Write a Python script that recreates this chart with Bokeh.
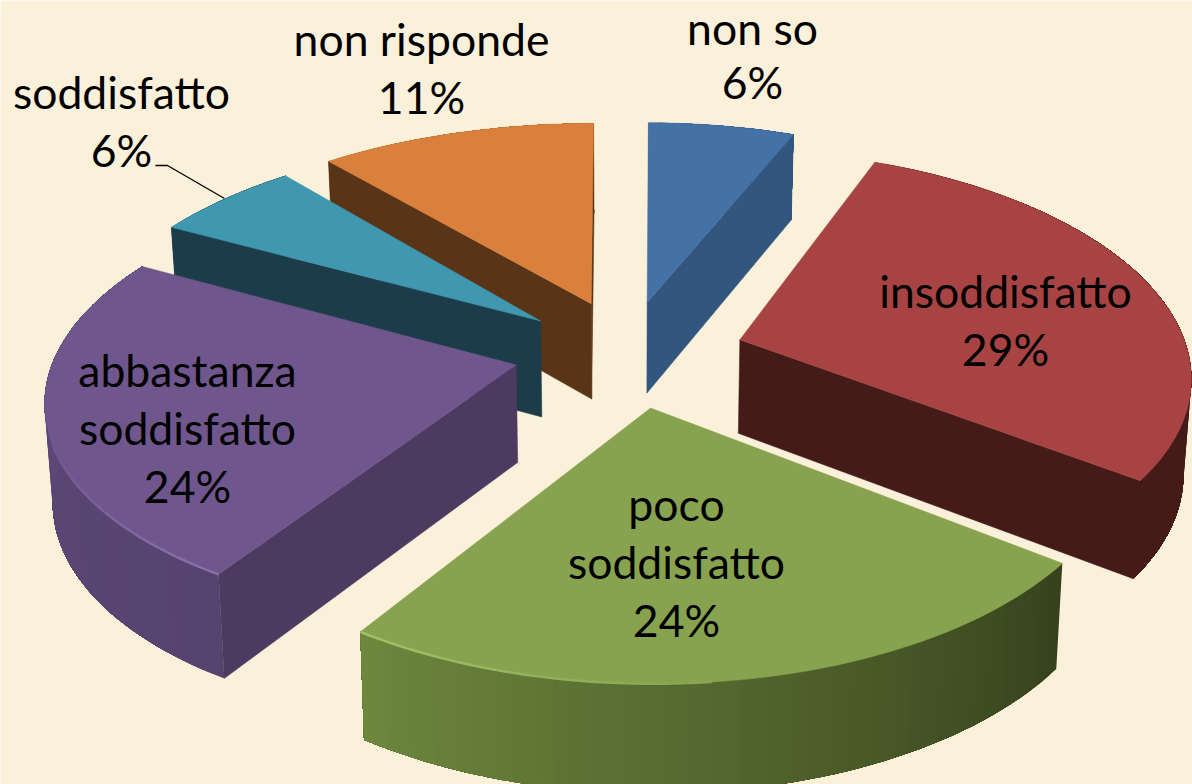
import math
from bokeh.plotting import figure
from bokeh.models import Range1d, ColumnDataSource
from bokeh.core.properties import value
from bokeh.embed import file_html
from bokeh.resources import INLINE

# --- data ---
categories = ["non so", "insoddisfatto", "poco soddisfatto", "abbastanza soddisfatto", "soddisfatto", "non risponde"]
percent = [6, 29, 24, 24, 6, 11]
pct_labels = ["6%", "29%", "24%", "24%", "6%", "11%"]

# --- styles and layout ---
TOP = ["#4471a6", "#a74443", "#87a34f", "#6f578d", "#3f97b0", "#d9813c"]
CUT = ["#33567f", "#451b19", "#36421d", "#4c3a60", "#1b3c48", "#5a3416"]
RIM_A = ["#33567f", "#451b19", "#36421d", "#57436f", "#1b3c48", "#b06a30"]   # clockwise start of rim
RIM_B = ["#33567f", "#451b19", "#6e883e", "#5f4a7c", "#1b3c48", "#b06a30"]   # clockwise end of rim
EDGE = ["#4471a6", "#a74443", "#a3c267", "#8a72aa", "#3f97b0", "#d9813c"]
BG = "#fbf1da"
CX, CY, RX, RY, K, H, EXPLODE = 628, 353, 465, 219, 0.143, 97, 0.245
ROT_DEG = [0.55, 0.5, 1.0, 0.0, -0.3, -0.3]
SCALE_X = [0.99, 0.965, 0.97, 0.99, 1.0, 1.02]
SCALE_Y = [1.0, 1.01, 1.0, 0.98, 1.0, 1.0]
SCALE_H = [0.95, 0.97, 1.02, 1.0, 1.0, 1.0]
NUDGE_X = [-2, 3, 0, -1, -2, 0]
NUDGE_Y = [0, 1, 0, -2, 1, -1]
LINES = [["non so", "6%"], ["insoddisfatto", "29%"], ["poco", "soddisfatto", "24%"],
         ["abbastanza", "soddisfatto", "24%"], ["soddisfatto", "6%"], ["non risponde", "11%"]]
LABEL_X = [752, 1005, 676, 187, 121, 421]
LABEL_BASE = [27, 290, 503, 369, 91, 38]
LINE_STEP = [54, 58, 58, 58, 58, 58]
LEADER_X = [155, 167, 224]
LEADER_Y = [165, 165, 198]
DRAW_ORDER = [0, 5, 4, 1, 3, 2]
LIGHT_ANGLE, LIGHT_SPREAD = math.radians(212), math.radians(38)


def project(X, Y, z=0.0, i=0):
    p = 1 / (1 + K * Y)
    return (CX + NUDGE_X[i] + RX * X * p * (1 - 0.014 * z),
            CY + NUDGE_Y[i] - RY * Y * p + H * SCALE_H[i] * (1 + (p - 1) * 0.5) * z)


def mix(a, b, t):
    ca = [int(a[i:i + 2], 16) for i in (1, 3, 5)]
    cb = [int(b[i:i + 2], 16) for i in (1, 3, 5)]
    return "#%02x%02x%02x" % tuple(round(u + (v - u) * t) for u, v in zip(ca, cb))


def area(pts):
    return sum(pts[k][0] * pts[(k + 1) % len(pts)][1] - pts[(k + 1) % len(pts)][0] * pts[k][1]
               for k in range(len(pts))) / 2


p = figure(width=1192, height=784, x_range=Range1d(0, 1192), y_range=Range1d(784, 0),
           toolbar_location=None, output_backend="svg", min_border=0,
           background_fill_color=BG, border_fill_color=BG, outline_line_color=None)
p.axis.visible = False
p.grid.visible = False

total = sum(percent)
starts = []
acc = 0.0
for v in percent:
    starts.append(acc)
    acc += v / total * 2 * math.pi

for i in DRAW_ORDER:
    base = starts[i]
    sweep = percent[i] / total * 2 * math.pi
    mid = base + sweep / 2
    a0 = base + math.radians(ROT_DEG[i])
    ox, oy = EXPLODE * math.sin(mid), EXPLODE * math.cos(mid)
    n = max(8, int(math.degrees(sweep) / 1.5))
    angs = [a0 + sweep * j / n for j in range(n + 1)]
    rim = [(ox + SCALE_X[i] * math.sin(a), oy + SCALE_Y[i] * math.cos(a)) for a in angs]
    # rim: each band reaches to the end of the arc, so that no seams show
    xs, ys, cols = [], [], []
    for j in range(n):
        tops = [project(x, y, 0, i) for x, y in rim[j:]]
        bots = [project(x, y, 1, i) for x, y in rim[j:]][::-1]
        pts = tops + bots
        xs.append([q[0] for q in pts])
        ys.append([q[1] for q in pts])
        cols.append(mix(RIM_A[i], RIM_B[i], j / n))
    p.patches("xs", "ys", source=ColumnDataSource(dict(xs=xs, ys=ys, c=cols)),
              fill_color="c", line_color=None)
    # cut faces, only those that face the viewer
    for sign, (ex, ey) in ((-1, rim[0]), (1, rim[-1])):
        pts = [project(ox, oy, 0, i), project(ex, ey, 0, i), project(ex, ey, 1, i), project(ox, oy, 1, i)]
        if area(pts) * sign > 0:
            p.patch([q[0] for q in pts], [q[1] for q in pts], fill_color=CUT[i], line_color=CUT[i], line_width=0.5)
    # top face
    outline = [project(ox, oy, 0, i)] + [project(x, y, 0, i) for x, y in rim]
    p.patch([q[0] for q in outline], [q[1] for q in outline], fill_color=TOP[i], line_color=TOP[i], line_width=0.5)
    # bevel highlight on the rim edge, towards the light only
    sx, sy, sc = [], [], []
    for j in range(n):
        am = (angs[j] + angs[j + 1]) / 2
        h = 1 - abs(am - LIGHT_ANGLE) / LIGHT_SPREAD
        if h > 0:
            q0, q1 = outline[j + 1], outline[j + 2]
            sx.append([q0[0], q1[0]])
            sy.append([q0[1], q1[1]])
            sc.append(mix(TOP[i], EDGE[i], h))
    if sx:
        p.multi_line("sx", "sy", source=ColumnDataSource(dict(sx=sx, sy=sy, sc=sc)), line_color="sc", line_width=2.5)

# leader line of "soddisfatto"
p.line(LEADER_X, LEADER_Y, line_color="#000000", line_width=1.3)

for i, lines in enumerate(LINES):
    for j, t in enumerate(lines):
        p.text([LABEL_X[i]], [LABEL_BASE[i] + j * LINE_STEP[i]], text=[t], text_align="center", text_baseline="alphabetic",
               text_font=value("Lato"), text_font_size="44.5px", text_color="#000000")

open("out.html", "w").write(file_html(p, INLINE))
